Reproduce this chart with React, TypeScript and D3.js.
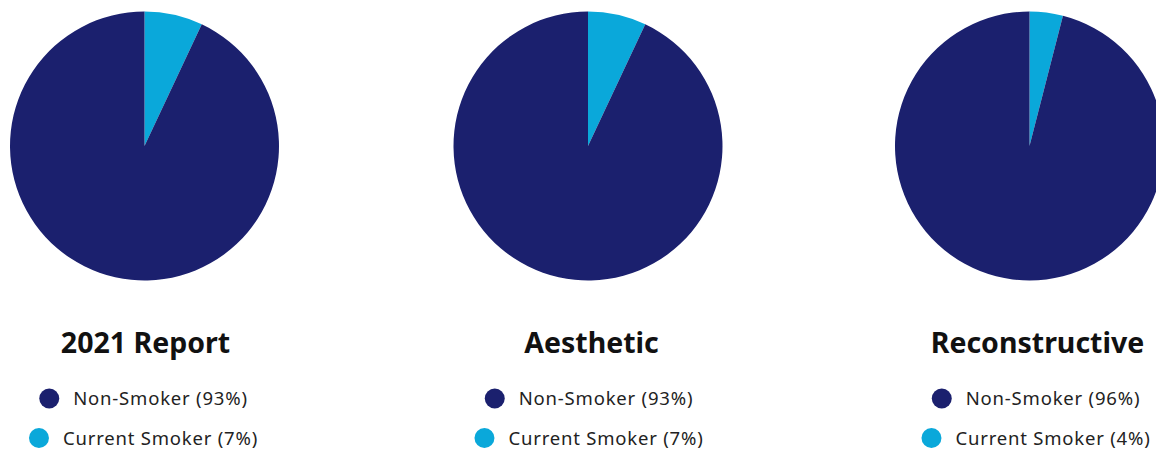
import React from "react";
import * as d3 from "d3";

const titles = ["2021 Report", "Aesthetic", "Reconstructive"];
const categories = ["Current Smoker", "Non-Smoker"];
const smokerValues = [7, 7, 4];
const nonSmokerValues = [93, 93, 96];
const colors = ["#0aa8da", "#1b206e"];

const W = 1156;
const H = 449;
const centersX = [144.5, 588, 1029.5];
const titleX = [145.5, 591.5, 1037.5];
const legendX = [143.5, 589, 1036];
const cy = 146;
const R = 134.5;

const LEG_FS = 18.5;
const LEG_LS = 0.8;
const FONT = "'Noto Sans', sans-serif";

let ctx: CanvasRenderingContext2D | null = null;
function measure(s: string): number {
  if (!ctx) ctx = document.createElement("canvas").getContext("2d");
  if (!ctx) return s.length * 9.5;
  ctx.font = `${LEG_FS}px 'Noto Sans'`;
  return ctx.measureText(s).width + s.length * LEG_LS;
}

export default function App() {
  const pie = d3.pie<number>().sort(null).value((d) => d);
  const arc = d3.arc<d3.PieArcDatum<number>>().innerRadius(0).outerRadius(R);
  const color = d3.scaleOrdinal<string, string>().domain(categories).range(colors);

  return (
    <svg
      width={W}
      height={H}
      style={{ position: "absolute", left: 0, top: 0, fontFamily: FONT }}
    >
      {titles.map((t, i) => {
        const values = [smokerValues[i], nonSmokerValues[i]];
        const arcs = pie(values);
        const cx = centersX[i];
        const legend = [
          { label: `Non-Smoker (${nonSmokerValues[i]}%)`, cat: "Non-Smoker", y: 398.5 },
          { label: `Current Smoker (${smokerValues[i]}%)`, cat: "Current Smoker", y: 438 },
        ];
        return (
          <g key={t}>
            <g transform={`translate(${cx},${cy})`}>
              {arcs.map((a, j) => (
                <path key={j} d={arc(a) || ""} fill={color(categories[j])} />
              ))}
            </g>
            <text
              x={titleX[i]}
              y={353}
              textAnchor="middle"
              fontSize={28.5}
              fontWeight="bold"
              fill="#111"
            >
              {t}
            </text>
            {legend.map((l) => {
              const textW = measure(l.label);
              const total = 20 + 14 + textW;
              const x0 = legendX[i] - total / 2;
              return (
                <g key={l.cat}>
                  <circle cx={x0 + 10} cy={l.y} r={10} fill={color(l.cat)} />
                  <text
                    x={x0 + 34}
                    y={l.y + 6.5}
                    fontSize={LEG_FS}
                    letterSpacing={LEG_LS}
                    fill="#222"
                  >
                    {l.label}
                  </text>
                </g>
              );
            })}
          </g>
        );
      })}
    </svg>
  );
}
